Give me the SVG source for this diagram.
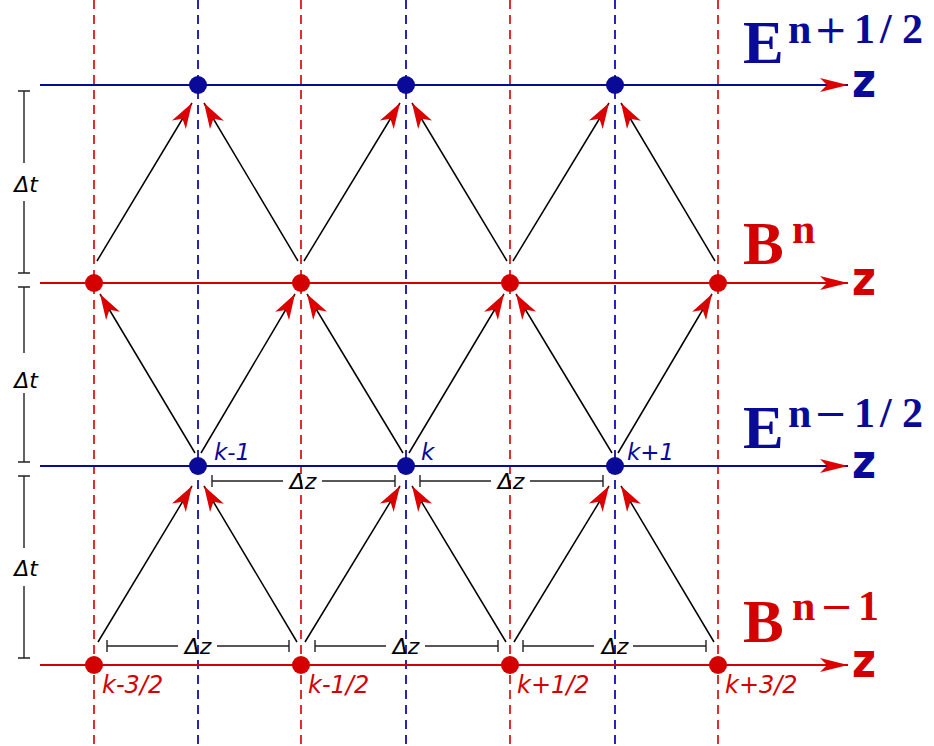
<svg xmlns="http://www.w3.org/2000/svg" width="934" height="746" viewBox="0 0 934 746">
<style>
.vr{stroke:#e01818;stroke-width:1.8;stroke-dasharray:9,6;fill:none}
.vb{stroke:#1010b0;stroke-width:1.8;stroke-dasharray:9,6;fill:none}
.hb{stroke:#0a0a99;stroke-width:2;fill:none}
.hr{stroke:#d40000;stroke-width:2;fill:none}
.dr{fill:#d40000}
.db{fill:#0a0a99}
.c{stroke:#000;stroke-width:1.5;fill:none;marker-end:url(#ah)}
.bar{stroke:#222;stroke-width:1.4;fill:none}
.dl{font-family:"DejaVu Sans",sans-serif;font-style:italic;font-size:22px;fill:#000}
.kb{font-family:"DejaVu Sans",sans-serif;font-style:italic;font-size:23px;fill:#0a0a99}
.kr{font-family:"DejaVu Sans",sans-serif;font-style:italic;font-size:24px;fill:#d40000}
.big{font-family:"Liberation Serif",serif;font-weight:bold;font-size:61px}
.sup{font-family:"Liberation Serif",serif;font-weight:bold;font-size:42px}
.op{font-family:"DejaVu Serif",serif;font-weight:normal;font-size:40px}
.z{font-family:"DejaVu Sans",sans-serif;font-weight:bold;font-size:48px}
.blue{fill:#0a0a99}
.red{fill:#d40000}
</style>
<defs>
<marker id="ah" markerUnits="userSpaceOnUse" markerWidth="30" markerHeight="30" viewBox="-24 -10 26 20" refX="0" refY="0" orient="auto">
<path d="M0,0 L-22,-7 L-16,0 L-22,7 Z" fill="#dd0000"/>
</marker>
<marker id="ax" markerUnits="userSpaceOnUse" markerWidth="34" markerHeight="20" viewBox="-30 -10 32 20" refX="0" refY="0" orient="auto">
<path d="M0,0 L-28,-7 L-21,0 L-28,7 Z" fill="#dd0000"/>
</marker>
</defs>

<g id="grid">
<line class="vr" x1="94" y1="0" x2="94" y2="746"/>
<line class="vr" x1="301" y1="0" x2="301" y2="746"/>
<line class="vr" x1="510" y1="0" x2="510" y2="746"/>
<line class="vr" x1="718" y1="0" x2="718" y2="746"/>
<line class="vb" x1="198" y1="0" x2="198" y2="746"/>
<line class="vb" x1="406" y1="0" x2="406" y2="746"/>
<line class="vb" x1="615" y1="0" x2="615" y2="746"/>
</g>

<g id="axes">
<line class="hb" x1="40" y1="85" x2="848" y2="85" marker-end="url(#ax)"/>
<line class="hr" x1="40" y1="283" x2="848" y2="283" marker-end="url(#ax)"/>
<line class="hb" x1="40" y1="466" x2="848" y2="466" marker-end="url(#ax)"/>
<line class="hr" x1="40" y1="665" x2="848" y2="665" marker-end="url(#ax)"/>
<text class="z blue" x="852" y="97" textLength="24" lengthAdjust="spacingAndGlyphs">z</text>
<text class="z red" x="852" y="295" textLength="24" lengthAdjust="spacingAndGlyphs">z</text>
<text class="z blue" x="852" y="478" textLength="24" lengthAdjust="spacingAndGlyphs">z</text>
<text class="z red" x="852" y="677" textLength="24" lengthAdjust="spacingAndGlyphs">z</text>
</g>

<g id="connectors">
<line class="c" x1="98" y1="642" x2="192" y2="486"/>
<line class="c" x1="297" y1="642" x2="204" y2="486"/>
<line class="c" x1="305" y1="642" x2="400" y2="486"/>
<line class="c" x1="506" y1="642" x2="412" y2="486"/>
<line class="c" x1="514" y1="642" x2="609" y2="486"/>
<line class="c" x1="714" y1="642" x2="621" y2="486"/>
<line class="c" x1="195" y1="453" x2="100" y2="294"/>
<line class="c" x1="201" y1="453" x2="295" y2="294"/>
<line class="c" x1="403" y1="453" x2="307" y2="294"/>
<line class="c" x1="409" y1="453" x2="504" y2="294"/>
<line class="c" x1="612" y1="453" x2="516" y2="294"/>
<line class="c" x1="618" y1="453" x2="712" y2="294"/>
<line class="c" x1="97" y1="261" x2="192" y2="103"/>
<line class="c" x1="298" y1="261" x2="204" y2="103"/>
<line class="c" x1="304" y1="261" x2="400" y2="103"/>
<line class="c" x1="507" y1="261" x2="412" y2="103"/>
<line class="c" x1="513" y1="261" x2="609" y2="103"/>
<line class="c" x1="715" y1="261" x2="621" y2="103"/>
</g>

<g id="E_top">
<circle id="E1" class="db" cx="198" cy="85" r="9"/>
<circle id="E2" class="db" cx="406" cy="85" r="9"/>
<circle id="E3" class="db" cx="615" cy="85" r="9"/>
</g>
<g id="B_n">
<circle id="B1" class="dr" cx="94" cy="283" r="9"/>
<circle id="B2" class="dr" cx="301" cy="283" r="9"/>
<circle id="B3" class="dr" cx="510" cy="283" r="9"/>
<circle id="B4" class="dr" cx="718" cy="283" r="9"/>
</g>
<g id="E_mid">
<circle id="Em1" class="db" cx="198" cy="466" r="9"/>
<circle id="Em2" class="db" cx="406" cy="466" r="9"/>
<circle id="Em3" class="db" cx="615" cy="466" r="9"/>
</g>
<g id="B_nm1">
<circle id="Bm1" class="dr" cx="94" cy="665" r="9"/>
<circle id="Bm2" class="dr" cx="301" cy="665" r="9"/>
<circle id="Bm3" class="dr" cx="510" cy="665" r="9"/>
<circle id="Bm4" class="dr" cx="718" cy="665" r="9"/>
</g>

<g id="dt">
<path class="bar" d="M24,91 V163 M24,201 V273 M18,91 H30 M18,273 H30"/>
<text class="dl" x="26" y="192" text-anchor="middle">Δt</text>
<path class="bar" d="M24,287 V353 M24,393 V462 M18,287 H30 M18,462 H30"/>
<text class="dl" x="26" y="388" text-anchor="middle">Δt</text>
<path class="bar" d="M24,476 V548 M24,586 V658 M18,476 H30 M18,658 H30"/>
<text class="dl" x="26" y="576" text-anchor="middle">Δt</text>
</g>

<g id="dz">
<path class="bar" d="M212,481 H283 M322,481 H395 M212,475 V487 M395,475 V487"/>
<text class="dl" x="303" y="489" text-anchor="middle">Δz</text>
<path class="bar" d="M420,481 H491 M530,481 H603 M420,475 V487 M603,475 V487"/>
<text class="dl" x="511" y="489" text-anchor="middle">Δz</text>
<path class="bar" d="M107,646 H178 M217,646 H289 M107,640 V652 M289,640 V652"/>
<text class="dl" x="198" y="654" text-anchor="middle">Δz</text>
<path class="bar" d="M315,646 H386 M425,646 H498 M315,640 V652 M498,640 V652"/>
<text class="dl" x="406" y="654" text-anchor="middle">Δz</text>
<path class="bar" d="M523,646 H594 M633,646 H706 M523,640 V652 M706,640 V652"/>
<text class="dl" x="615" y="654" text-anchor="middle">Δz</text>
</g>

<g id="klabels">
<text class="kb" x="214" y="460">k-1</text>
<text class="kb" x="421" y="460">k</text>
<text class="kb" x="627" y="460">k+1</text>
<text class="kr" x="102" y="693">k-3/2</text>
<text class="kr" x="308" y="693">k-1/2</text>
<text class="kr" x="517" y="693">k+1/2</text>
<text class="kr" x="725" y="693">k+3/2</text>
</g>

<g id="titles">
<text class="big blue" x="743" y="63">E</text>
<text class="sup blue" y="43"><tspan x="788">n</tspan><tspan class="op" x="814">+</tspan><tspan x="854">1</tspan><tspan x="880">/</tspan><tspan x="902">2</tspan></text>
<text class="big red" x="743" y="264">B</text>
<text class="sup red" x="792" y="243">n</text>
<text class="big blue" x="743" y="448">E</text>
<text class="sup blue" y="427"><tspan x="788">n</tspan><tspan class="op" x="814">−</tspan><tspan x="854">1</tspan><tspan x="880">/</tspan><tspan x="902">2</tspan></text>
<text class="big red" x="743" y="642">B</text>
<text class="sup red" y="620"><tspan x="792">n</tspan><tspan class="op" x="820">−</tspan><tspan x="858">1</tspan></text>
</g>
</svg>
